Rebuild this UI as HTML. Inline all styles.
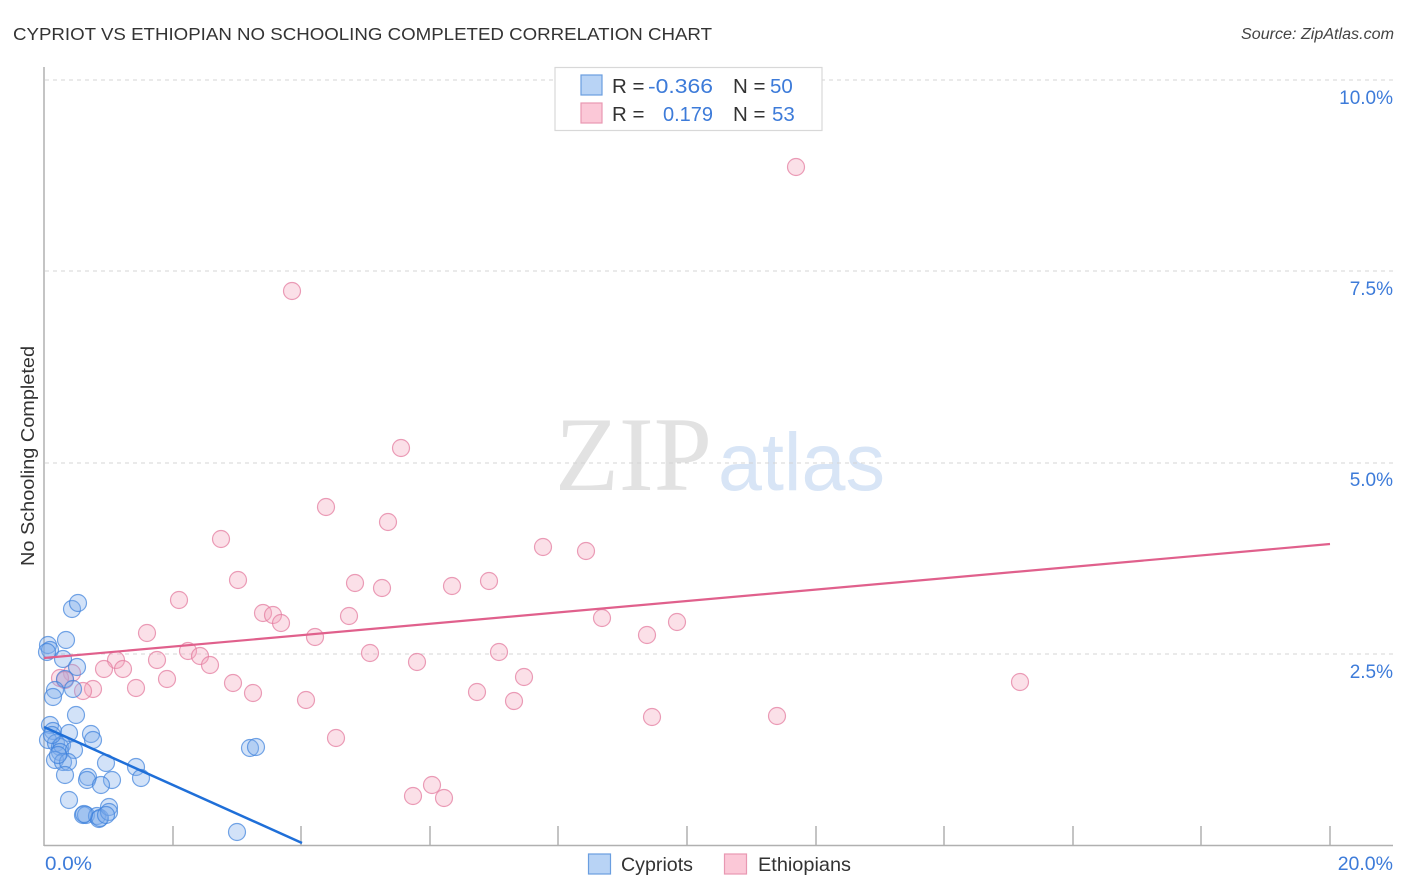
<!DOCTYPE html>
<html>
<head>
<meta charset="utf-8">
<style>
  html,body{margin:0;padding:0;background:#fff;}
  svg{display:block;}
</style>
</head>
<body>
<svg width="1406" height="892" viewBox="0 0 1406 892" xmlns="http://www.w3.org/2000/svg" style="font-family:'Liberation Sans',sans-serif;">
  <rect width="1406" height="892" fill="#fff"/>

  <text x="13" y="40" font-size="17.5" fill="#333" textLength="699" lengthAdjust="spacingAndGlyphs">CYPRIOT VS ETHIOPIAN NO SCHOOLING COMPLETED CORRELATION CHART</text>
  <text x="1394" y="39" font-size="15.5" fill="#444" font-style="italic" text-anchor="end" textLength="153" lengthAdjust="spacingAndGlyphs">Source: ZipAtlas.com</text>

  <text x="555" y="490" style="font-family:'Liberation Serif',serif;" font-size="106" fill="#e2e2e2" textLength="157" lengthAdjust="spacingAndGlyphs">ZIP</text>
  <text x="718" y="490" font-size="82" fill="#d8e5f6" textLength="167" lengthAdjust="spacingAndGlyphs">atlas</text>

  <g stroke="#d4d4d4" stroke-width="1" stroke-dasharray="4,4">
    <line x1="45" y1="80" x2="1393" y2="80"/>
    <line x1="45" y1="271" x2="1393" y2="271"/>
    <line x1="45" y1="463" x2="1393" y2="463"/>
    <line x1="45" y1="654" x2="1393" y2="654"/>
  </g>

  <g stroke="#b0b0b0" stroke-width="1.5">
    <line x1="44" y1="67" x2="44" y2="846"/>
    <line x1="44" y1="845.5" x2="1393" y2="845.5"/>
    <line x1="173" y1="826" x2="173" y2="845"/>
    <line x1="301" y1="826" x2="301" y2="845"/>
    <line x1="430" y1="826" x2="430" y2="845"/>
    <line x1="558" y1="826" x2="558" y2="845"/>
    <line x1="687" y1="826" x2="687" y2="845"/>
    <line x1="816" y1="826" x2="816" y2="845"/>
    <line x1="944" y1="826" x2="944" y2="845"/>
    <line x1="1073" y1="826" x2="1073" y2="845"/>
    <line x1="1201" y1="826" x2="1201" y2="845"/>
    <line x1="1330" y1="826" x2="1330" y2="845"/>
  </g>

  <g font-size="19" fill="#3d7bd9" text-anchor="end">
    <text x="1393" y="104">10.0%</text>
    <text x="1393" y="295">7.5%</text>
    <text x="1393" y="486">5.0%</text>
    <text x="1393" y="678">2.5%</text>
  </g>
  <g font-size="19.5" fill="#3d7bd9">
    <text x="45" y="870" textLength="47" lengthAdjust="spacingAndGlyphs">0.0%</text>
    <text x="1393" y="870" text-anchor="end">20.0%</text>
  </g>

  <text transform="translate(34,456) rotate(-90)" font-size="18.5" fill="#333" text-anchor="middle" textLength="220" lengthAdjust="spacingAndGlyphs">No Schooling Completed</text>

  <g fill="rgba(244,165,190,0.35)" stroke="rgba(228,125,160,0.75)" stroke-width="1.2">
    <circle cx="796" cy="167" r="8.5"/>
    <circle cx="292" cy="291" r="8.5"/>
    <circle cx="401" cy="448" r="8.5"/>
    <circle cx="326" cy="507" r="8.5"/>
    <circle cx="388" cy="522" r="8.5"/>
    <circle cx="221" cy="539" r="8.5"/>
    <circle cx="543" cy="547" r="8.5"/>
    <circle cx="586" cy="551" r="8.5"/>
    <circle cx="238" cy="580" r="8.5"/>
    <circle cx="355" cy="583" r="8.5"/>
    <circle cx="382" cy="588" r="8.5"/>
    <circle cx="452" cy="586" r="8.5"/>
    <circle cx="489" cy="581" r="8.5"/>
    <circle cx="179" cy="600" r="8.5"/>
    <circle cx="263" cy="613" r="8.5"/>
    <circle cx="273" cy="615" r="8.5"/>
    <circle cx="281" cy="623" r="8.5"/>
    <circle cx="349" cy="616" r="8.5"/>
    <circle cx="602" cy="618" r="8.5"/>
    <circle cx="677" cy="622" r="8.5"/>
    <circle cx="147" cy="633" r="8.5"/>
    <circle cx="315" cy="637" r="8.5"/>
    <circle cx="647" cy="635" r="8.5"/>
    <circle cx="188" cy="651" r="8.5"/>
    <circle cx="200" cy="656" r="8.5"/>
    <circle cx="370" cy="653" r="8.5"/>
    <circle cx="499" cy="652" r="8.5"/>
    <circle cx="116" cy="660" r="8.5"/>
    <circle cx="157" cy="660" r="8.5"/>
    <circle cx="210" cy="665" r="8.5"/>
    <circle cx="417" cy="662" r="8.5"/>
    <circle cx="104" cy="669" r="8.5"/>
    <circle cx="123" cy="669" r="8.5"/>
    <circle cx="72" cy="673" r="8.5"/>
    <circle cx="60" cy="678" r="8.5"/>
    <circle cx="65" cy="680" r="8.5"/>
    <circle cx="167" cy="679" r="8.5"/>
    <circle cx="524" cy="677" r="8.5"/>
    <circle cx="1020" cy="682" r="8.5"/>
    <circle cx="136" cy="688" r="8.5"/>
    <circle cx="93" cy="689" r="8.5"/>
    <circle cx="83" cy="691" r="8.5"/>
    <circle cx="233" cy="683" r="8.5"/>
    <circle cx="253" cy="693" r="8.5"/>
    <circle cx="306" cy="700" r="8.5"/>
    <circle cx="477" cy="692" r="8.5"/>
    <circle cx="514" cy="701" r="8.5"/>
    <circle cx="652" cy="717" r="8.5"/>
    <circle cx="777" cy="716" r="8.5"/>
    <circle cx="336" cy="738" r="8.5"/>
    <circle cx="432" cy="785" r="8.5"/>
    <circle cx="413" cy="796" r="8.5"/>
    <circle cx="444" cy="798" r="8.5"/>
  </g>

  <g fill="rgba(125,172,236,0.35)" stroke="rgba(60,128,220,0.7)" stroke-width="1.2">
    <circle cx="72" cy="609" r="8.5"/>
    <circle cx="78" cy="603" r="8.5"/>
    <circle cx="48" cy="645" r="8.5"/>
    <circle cx="50" cy="650" r="8.5"/>
    <circle cx="66" cy="640" r="8.5"/>
    <circle cx="63" cy="659" r="8.5"/>
    <circle cx="77" cy="667" r="8.5"/>
    <circle cx="65" cy="679" r="8.5"/>
    <circle cx="73" cy="689" r="8.5"/>
    <circle cx="55" cy="690" r="8.5"/>
    <circle cx="53" cy="697" r="8.5"/>
    <circle cx="76" cy="715" r="8.5"/>
    <circle cx="50" cy="725" r="8.5"/>
    <circle cx="53" cy="731" r="8.5"/>
    <circle cx="69" cy="733" r="8.5"/>
    <circle cx="91" cy="734" r="8.5"/>
    <circle cx="93" cy="740" r="8.5"/>
    <circle cx="48" cy="740" r="8.5"/>
    <circle cx="56" cy="743" r="8.5"/>
    <circle cx="60" cy="747" r="8.5"/>
    <circle cx="62" cy="745" r="8.5"/>
    <circle cx="60" cy="752" r="8.5"/>
    <circle cx="74" cy="750" r="8.5"/>
    <circle cx="55" cy="760" r="8.5"/>
    <circle cx="63" cy="762" r="8.5"/>
    <circle cx="68" cy="762" r="8.5"/>
    <circle cx="106" cy="763" r="8.5"/>
    <circle cx="136" cy="767" r="8.5"/>
    <circle cx="141" cy="778" r="8.5"/>
    <circle cx="65" cy="775" r="8.5"/>
    <circle cx="88" cy="777" r="8.5"/>
    <circle cx="87" cy="780" r="8.5"/>
    <circle cx="112" cy="780" r="8.5"/>
    <circle cx="101" cy="785" r="8.5"/>
    <circle cx="69" cy="800" r="8.5"/>
    <circle cx="83" cy="815" r="8.5"/>
    <circle cx="86" cy="815" r="8.5"/>
    <circle cx="97" cy="816" r="8.5"/>
    <circle cx="99" cy="819" r="8.5"/>
    <circle cx="100" cy="818" r="8.5"/>
    <circle cx="109" cy="807" r="8.5"/>
    <circle cx="109" cy="812" r="8.5"/>
    <circle cx="106" cy="815" r="8.5"/>
    <circle cx="237" cy="832" r="8.5"/>
    <circle cx="250" cy="748" r="8.5"/>
    <circle cx="256" cy="747" r="8.5"/>
    <circle cx="52" cy="735" r="8.5"/>
    <circle cx="58" cy="755" r="8.5"/>
    <circle cx="84" cy="814" r="8.5"/>
    <circle cx="47" cy="652" r="8.5"/>
  </g>

  <line x1="44" y1="658" x2="1330" y2="544" stroke="#e0608c" stroke-width="2.2"/>
  <line x1="44" y1="727" x2="302" y2="843" stroke="#1f6fd8" stroke-width="2.5"/>

  <rect x="555" y="67.5" width="267" height="63" fill="#fff" stroke="#d8d8d8" stroke-width="1.2"/>
  <rect x="581" y="75" width="21" height="20" fill="#b8d3f5" stroke="#6a9ee0" stroke-width="1.2"/>
  <rect x="581" y="103" width="21" height="20" fill="#fbc8d7" stroke="#e898b2" stroke-width="1.2"/>
  <g font-size="20.5">
    <text x="612" y="93" fill="#333">R =</text>
    <text x="648" y="93" fill="#3d7bd9" textLength="65" lengthAdjust="spacingAndGlyphs">-0.366</text>
    <text x="733" y="93" fill="#333">N =</text>
    <text x="770" y="93" fill="#3d7bd9">50</text>
    <text x="612" y="121" fill="#333">R =</text>
    <text x="663" y="121" fill="#3d7bd9" textLength="50" lengthAdjust="spacingAndGlyphs">0.179</text>
    <text x="733" y="121" fill="#333">N =</text>
    <text x="772" y="121" fill="#3d7bd9">53</text>
  </g>

  <rect x="588.5" y="854" width="22" height="20" fill="#b8d3f5" stroke="#6a9ee0" stroke-width="1.2"/>
  <text x="621" y="871" font-size="19.5" fill="#333" textLength="72" lengthAdjust="spacingAndGlyphs">Cypriots</text>
  <rect x="724.5" y="854" width="22" height="20" fill="#fbc8d7" stroke="#e898b2" stroke-width="1.2"/>
  <text x="758" y="871" font-size="19.5" fill="#333" textLength="93" lengthAdjust="spacingAndGlyphs">Ethiopians</text>
</svg>
</body>
</html>
